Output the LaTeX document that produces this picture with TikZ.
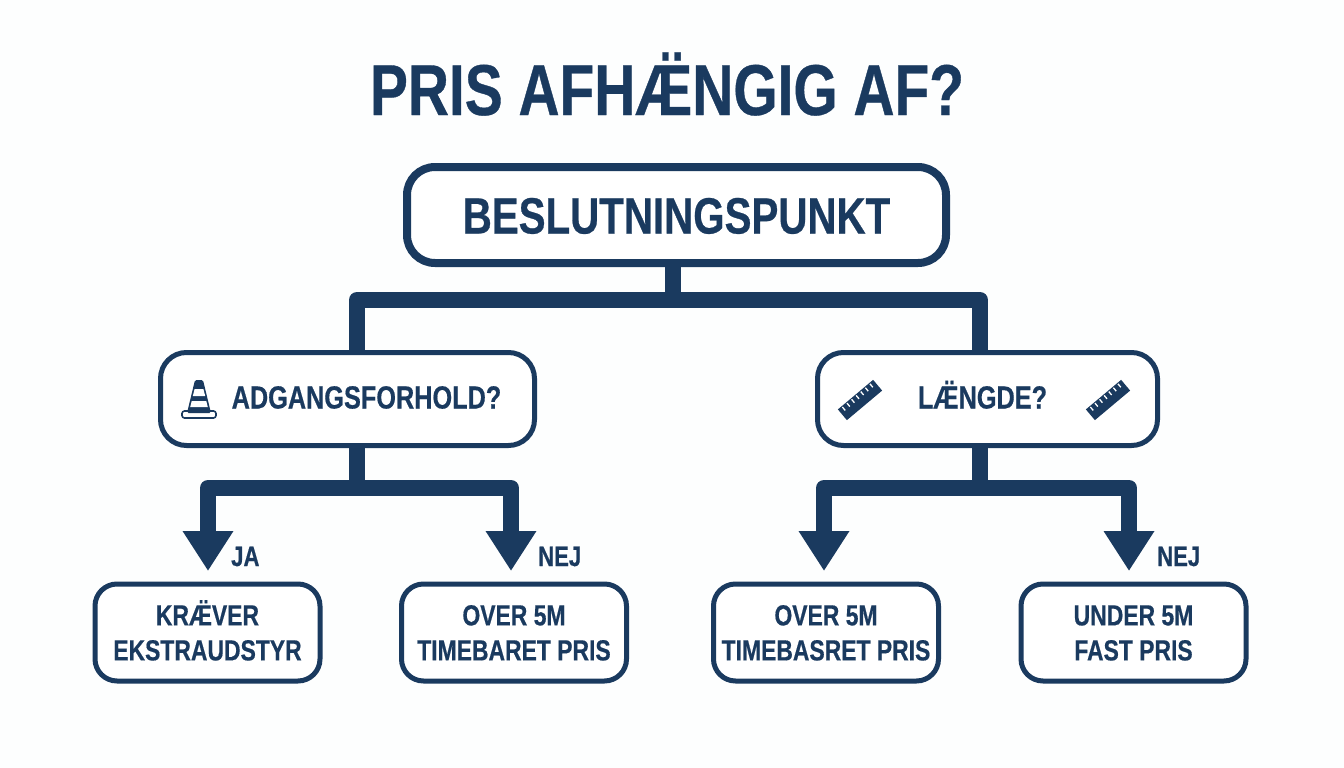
\documentclass[tikz,border=0pt]{standalone}
\usepackage{fontspec}
\setmainfont[FakeStretch=0.79,BoldFeatures={FakeBold=0.5}]{Liberation Sans}
\usetikzlibrary{arrows.meta,positioning,calc}
\definecolor{navy}{HTML}{1A3A5F}
\definecolor{paper}{HTML}{FDFEFE}
\newcommand{\bigtext}[2]{\fontsize{#1}{#2}\selectfont\bfseries}
\newcommand{\firstline}[1]{\rule{0pt}{21pt}\smash{#1}}
\tikzset{
  boxA/.style={draw=navy,fill=white,line width=8pt,rounded corners=28pt,minimum width=539pt,minimum height=96pt,text=navy,text height=37pt,text depth=0pt,font=\bigtext{51}{60}},
  boxB/.style={draw=navy,fill=white,line width=5pt,rounded corners=26pt,minimum height=93pt,text=navy,text height=23pt,text depth=4pt,font=\bigtext{32}{38}},
  boxC/.style={draw=navy,fill=white,line width=5pt,rounded corners=22pt,minimum width=225pt,minimum height=97pt,text=navy,align=center,font=\bigtext{29}{35}},
  branch/.style={draw=navy,line width=16pt,line join=round},
  arrowbranch/.style={branch,-{Triangle[width=48pt,length=40pt,color=navy]}},
  answer/.style={text=navy,inner sep=0pt,font=\bigtext{28}{30}},
  rulericon/.pic={
    \fill[navy,rotate=40] (-23,-7) rectangle (23,7);
    \foreach \i in {-18,-12,...,18}
      \draw[white,line width=1.3pt,rotate=40] (\i,-6) -- (\i,-1.5);
  },
  coneicon/.pic={
    \draw[navy,line width=1.6pt,fill=white,rounded corners=2.5pt] (-17,38) rectangle (17,31);
    \fill[navy,rounded corners=1.5pt] (-4,0) -- (4,0) -- (12,33) -- (-12,33) -- cycle;
    \fill[white] (-4.4,9) -- (4.4,9) -- (6.2,16) -- (-6.2,16) -- cycle;
    \fill[white] (-7.3,21) -- (7.3,21) -- (8.8,27) -- (-8.8,27) -- cycle;
  }
}
\begin{document}
\begin{tikzpicture}[x=1pt,y=-1pt]
\useasboundingbox[fill=paper] (0,0) rectangle (1344,768);
\node[text=navy,anchor=base,inner sep=0pt,font=\bigtext{72}{80}] (title) at (667,115) {PRIS AFHÆ̈NGIG AF?};
\node[boxA] (beslut) at (676.5,215) {BESLUTNINGSPUNKT};
\node[boxB,minimum width=374pt] (adgang) at (347.5,399) {\hspace*{38pt}ADGANGSFORHOLD?};
\node[boxB,minimum width=340pt] (laengde) at (987.5,399) {\hspace*{-10pt}LÆ̈NGDE?};
\node[boxC] (kraever) at (207.5,632.5) {\firstline{KRÆ̈VER}\\EKSTRAUDSTYR};
\node[boxC] (timebaret) at (514,632.5) {\firstline{OVER 5M}\\TIMEBARET PRIS};
\node[boxC] (timebasret) at (826,632.5) {\firstline{OVER 5M}\\TIMEBASRET PRIS};
\node[boxC] (fast) at (1133.5,632.5) {\firstline{UNDER 5M}\\FAST PRIS};
\coordinate (hubT) at (673,300);
\coordinate (hubL) at (357,488);
\coordinate (hubR) at (980,488);
\coordinate (tipA) at (208,571);
\coordinate (tipB) at (511,571);
\coordinate (tipC) at (824,571);
\coordinate (tipD) at (1129,571);
\draw[branch] (hubT |- beslut.south) -- (hubT);
\draw[branch] (hubL |- adgang.north) |- (hubT) -| (hubR |- laengde.north);
\draw[branch] (hubL |- adgang.south) -- (hubL);
\draw[branch] (hubR |- laengde.south) -- (hubR);
\draw[arrowbranch] (hubL) -| (tipA);
\draw[arrowbranch] (hubL) -| (tipB);
\draw[arrowbranch] (hubR) -| (tipC);
\draw[arrowbranch] (hubR) -| (tipD);
\node[answer,anchor=base west] (ja) at (231,566) {JA};
\node[answer,anchor=base west] (nej1) at (538,566) {NEJ};
\node[answer,anchor=base west] (nej2) at (1157,566) {NEJ};
\pic at (199,380) {coneicon};
\pic at (860,400) {rulericon};
\pic at (1108,400) {rulericon};
\end{tikzpicture}
\end{document}
